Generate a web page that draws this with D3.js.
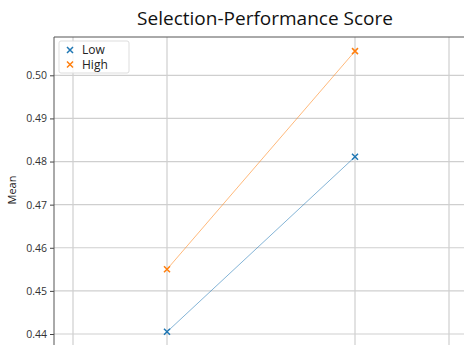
<!DOCTYPE html>
<html>
<head>
<meta charset="utf-8">
<script src="https://cdn.jsdelivr.net/npm/d3@7"></script>
<style>
  html, body { margin: 0; padding: 0; background: #fff; }
  svg { display: block; font-family: "Open Sans", "Noto Sans", sans-serif; }
</style>
</head>
<body>
<svg id="chart" width="464" height="345"></svg>
<script>
// Group positions on the x axis and mean scores per series
const groups = [0, 1];
const lowValues = [0.4405, 0.4811];
const highValues = [0.4550, 0.5056];
const seriesNames = ["Low", "High"];
const xGridTicks = [-0.5, 0, 1, 1.5];
const yTicks = [0.44, 0.45, 0.46, 0.47, 0.48, 0.49, 0.50];
const yTickLabels = ["0.44", "0.45", "0.46", "0.47", "0.48", "0.49", "0.50"];
const titleText = "Selection-Performance Score";
const yLabel = "Mean";

const colors = { Low: "#1f77b4", High: "#ff7f0e" };
const series = [
  { name: seriesNames[0], values: lowValues },
  { name: seriesNames[1], values: highValues }
];

const svg = d3.select("#chart");
const plotLeft = 54, plotTop = 37, plotRight = 476, plotBottom = 380;

const x = d3.scaleLinear().domain([0, 1]).range([167, 355]);
const y = d3.scaleLinear().domain([0.44, 0.50]).range([334, 75.3]);

// grid
const grid = svg.append("g");
grid.selectAll("line.v").data(xGridTicks).join("line")
  .attr("x1", d => x(d)).attr("x2", d => x(d))
  .attr("y1", plotTop).attr("y2", plotBottom)
  .attr("stroke", "#cfcfcf").attr("stroke-width", 1.2);
grid.selectAll("line.h").data(yTicks).join("line")
  .attr("x1", plotLeft).attr("x2", plotRight)
  .attr("y1", d => y(d)).attr("y2", d => y(d))
  .attr("stroke", "#cfcfcf").attr("stroke-width", 1.2);

// y axis
const yAxis = d3.axisLeft(y).tickValues(yTicks)
  .tickFormat((d, i) => yTickLabels[i]).tickSize(4).tickPadding(3);
const gy = svg.append("g").attr("transform", `translate(${plotLeft},0)`).call(yAxis);
gy.select(".domain").remove();
gy.selectAll(".tick line").attr("stroke", "#444");
gy.selectAll(".tick text").attr("fill", "#333").style("font-size", "10.5px")
  .style("font-family", "'Open Sans', sans-serif");

// spines
svg.append("line").attr("x1", plotLeft).attr("x2", plotLeft).attr("y1", plotTop).attr("y2", plotBottom)
  .attr("stroke", "#555").attr("stroke-width", 1);
svg.append("line").attr("x1", plotLeft).attr("x2", plotRight).attr("y1", plotTop).attr("y2", plotTop)
  .attr("stroke", "#555").attr("stroke-width", 1);

// lines and markers
const line = d3.line().x((d, i) => x(groups[i])).y(d => y(d));
series.forEach(s => {
  svg.append("path").datum(s.values)
    .attr("d", line).attr("fill", "none")
    .attr("stroke", colors[s.name]).attr("stroke-opacity", 0.55).attr("stroke-width", 1);
  const m = 3;
  s.values.forEach((v, i) => {
    const cx = x(groups[i]), cy = y(v);
    svg.append("path")
      .attr("d", `M${cx - m},${cy - m}L${cx + m},${cy + m}M${cx - m},${cy + m}L${cx + m},${cy - m}`)
      .attr("stroke", colors[s.name]).attr("stroke-width", 1.5);
  });
});

// title
svg.append("text").attr("x", 265).attr("y", 25).attr("text-anchor", "middle")
  .style("font-size", "19px").attr("fill", "#111").text(titleText);

// y label
svg.append("text").attr("transform", "translate(16,190) rotate(-90)")
  .attr("text-anchor", "middle").style("font-size", "11px").attr("fill", "#222").text(yLabel);

// legend
const lg = svg.append("g");
lg.append("rect").attr("x", 59).attr("y", 41).attr("width", 70).attr("height", 32)
  .attr("rx", 2).attr("fill", "#fff").attr("fill-opacity", 0.85)
  .attr("stroke", "#ddd").attr("stroke-width", 1);
seriesNames.forEach((n, i) => {
  const cy = 50 + i * 14.5, cx = 70, m = 3;
  lg.append("path")
    .attr("d", `M${cx - m},${cy - m}L${cx + m},${cy + m}M${cx - m},${cy + m}L${cx + m},${cy - m}`)
    .attr("stroke", colors[n]).attr("stroke-width", 1.5);
  lg.append("text").attr("x", 82).attr("y", cy + 4).style("font-size", "12px")
    .attr("fill", "#222").text(n);
});
</script>
</body>
</html>
